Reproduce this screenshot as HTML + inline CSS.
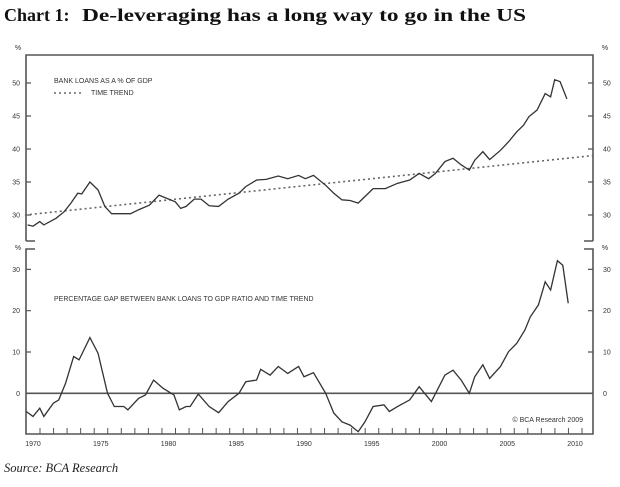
<!DOCTYPE html>
<html><head><meta charset="utf-8"><style>
html,body{margin:0;padding:0;background:#fff;}
svg{display:block;}
</style></head><body>
<svg id="chart" width="620" height="487" viewBox="0 0 620 487" xmlns="http://www.w3.org/2000/svg">
<text y="21" font-family="Liberation Serif, serif" font-weight="bold" font-size="18" fill="#111"><tspan x="4">Chart 1:</tspan><tspan x="82" textLength="444" lengthAdjust="spacingAndGlyphs">De-leveraging has a long way to go in the US</tspan></text>
<text x="4" y="472" font-family="Liberation Serif, serif" font-style="italic" font-size="12.5" fill="#222">Source: BCA Research</text>
<g id="plot"></g>
</svg>
<script>
const loanYears=[1969.6,1970,1970.5,1970.8,1971.7,1972.3,1972.8,1973.3,1973.6,1974.2,1974.8,1975.3,1975.8,1976.4,1977.2,1977.8,1978.6,1979.3,1979.9,1980.5,1980.9,1981.3,1981.9,1982.4,1983,1983.7,1984.4,1985.2,1985.7,1986.5,1987.2,1988.1,1988.8,1989.6,1990.1,1990.7,1991.6,1992.2,1992.8,1993.4,1994,1994.5,1995.1,1996,1996.9,1997.8,1998.5,1999.2,1999.7,2000.4,2001,2001.6,2002.2,2002.6,2003.2,2003.7,2004.5,2005.1,2005.7,2006.2,2006.6,2007.2,2007.8,2008.2,2008.5,2008.9,2009.4];
const loanValues=[28.5,28.3,29.0,28.5,29.5,30.5,31.8,33.3,33.2,35.0,33.8,31.3,30.2,30.2,30.2,30.8,31.5,33.0,32.5,32.0,31.0,31.3,32.4,32.4,31.4,31.3,32.4,33.3,34.3,35.3,35.4,35.9,35.5,36.0,35.5,36.0,34.5,33.3,32.3,32.2,31.8,32.8,34.0,34.0,34.8,35.3,36.3,35.5,36.3,38.1,38.6,37.6,36.8,38.3,39.6,38.4,39.8,41.1,42.6,43.6,44.9,45.9,48.4,47.9,50.5,50.2,47.6];
const trendYears=[1969.4,2011.3];
const trendValues=[30.0,39.0];
const gapYears=[1969.5,1970,1970.5,1970.8,1971.5,1971.9,1972.4,1973,1973.4,1974.2,1974.8,1975.5,1976,1976.7,1977,1977.8,1978.3,1978.9,1979.6,1980.4,1980.8,1981.3,1981.6,1982.2,1983,1983.7,1984.4,1985.2,1985.7,1986.5,1986.8,1987.5,1988.1,1988.8,1989.6,1990,1990.7,1991.6,1992.2,1992.8,1993.4,1994,1994.5,1995.1,1995.9,1996.3,1996.9,1997.8,1998.5,1999.4,2000.4,2001,2001.6,2002.2,2002.6,2003.2,2003.7,2004.5,2005.1,2005.7,2006.3,2006.7,2007.3,2007.8,2008.2,2008.7,2009.1,2009.5];
const gapValues=[-4.4,-5.6,-3.6,-5.6,-2.4,-1.6,2.4,8.9,8.1,13.5,9.7,0,-3.2,-3.2,-4.0,-1.2,-0.4,3.2,1.2,-0.4,-4.0,-3.2,-3.2,-0.2,-3.2,-4.7,-2.0,0,2.8,3.2,5.8,4.4,6.5,4.8,6.5,4.0,5.0,0,-4.8,-6.9,-7.7,-9.3,-6.9,-3.2,-2.8,-4.4,-3.2,-1.6,1.6,-2.0,4.4,5.6,3.2,0,4.0,6.9,3.6,6.5,10.1,12.1,15.3,18.5,21.4,27,25,32.1,31,21.8];
const topTicks=[30,35,40,45,50];
const bottomTicks=[0,10,20,30];
const yearLabels=[1970,1975,1980,1985,1990,1995,2000,2005,2010];

const NS="http://www.w3.org/2000/svg";
const g=document.getElementById('plot');
const L=26,R=593;
const X=y=>33+(y-1970)*13.55;
const YT=v=>215-(v-30)*6.6;
const YB=v=>393.3-v*4.13;
function mk(t,a,p){const e=document.createElementNS(NS,t);for(const k in a)e.setAttribute(k,a[k]);(p||g).appendChild(e);return e;}
const lc="#555";
let e;
e=mk('path',{d:`M${L},241 V55 H${R} V241 M${L},241 h9 M${R},241 h-9`,fill:'none',stroke:lc,'stroke-width':1.6});


e=mk('path',{d:`M${L+9},249 H${L} V434 H${R} V249 h-9`,fill:'none',stroke:lc,'stroke-width':1.6});


const tf={'font-family':'Liberation Sans, sans-serif','font-size':7,fill:'#333'};
function lab(x,y,s,anchor,name){const t=mk('text',Object.assign({x:x,y:y,'text-anchor':anchor},tf));t.textContent=s;


return t;}
lab(18,50,'%','middle','top-left-unit');lab(605,50,'%','middle','top-right-unit');
lab(18,250,'%','middle','bottom-left-unit');lab(605,250,'%','middle','bottom-right-unit');
topTicks.forEach(v=>{const y=YT(v);
 e=mk('path',{d:`M${L},${y} h5 M${R},${y} h-5`,stroke:lc,'stroke-width':1.2});
 
 
 lab(20,y+2.5,String(v),'end','top-y-label');lab(603,y+2.5,String(v),'start','top-y-label-right');});
bottomTicks.forEach(v=>{const y=YB(v);
 e=mk('path',{d:`M${L},${y} h5 M${R},${y} h-5`,stroke:lc,'stroke-width':1.2});
 
 
 lab(20,y+2.5,String(v),'end','bottom-y-label');lab(603,y+2.5,String(v),'start','bottom-y-label-right');});
for(let yr=1970;yr<=2010;yr++){const x=X(yr)+7;
 e=mk('line',{x1:x,x2:x,y1:434,y2:428,stroke:lc,'stroke-width':1});
 
 }
yearLabels.forEach(yr=>lab(X(yr),446,String(yr),'middle','x-label'));
e=mk('line',{x1:L,x2:R,y1:YB(0),y2:YB(0),stroke:lc,'stroke-width':1.6});


e=mk('line',{x1:X(trendYears[0]),y1:YT(trendValues[0]),x2:X(trendYears[1]),y2:YT(trendValues[1]),stroke:'#666','stroke-width':1.6,'stroke-dasharray':'2,3'});


e=mk('polyline',{points:loanYears.map((y,i)=>X(y)+','+YT(loanValues[i])).join(' '),fill:'none',stroke:'#333','stroke-width':1.3});


e=mk('polyline',{points:gapYears.map((y,i)=>X(y)+','+YB(gapValues[i])).join(' '),fill:'none',stroke:'#333','stroke-width':1.3});


lab(54,83,'BANK LOANS AS A % OF GDP','start','legend-bank-loans');
e=mk('line',{x1:54,x2:82,y1:93,y2:93,stroke:'#666','stroke-width':1.4,'stroke-dasharray':'2,3'});


lab(91,95,'TIME TREND','start','legend-time-trend');
lab(54,301,'PERCENTAGE GAP BETWEEN BANK LOANS TO GDP RATIO AND TIME TREND','start','bottom-panel-title');
lab(583,422,'© BCA Research 2009','end','copyright-note');
</script>
</body></html>
